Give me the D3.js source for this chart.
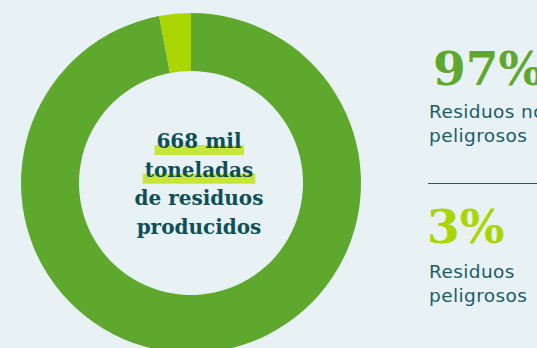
<!DOCTYPE html>
<html><head><meta charset="utf-8">
<script src="https://cdn.jsdelivr.net/npm/d3@7"></script>
<style>html,body{margin:0;padding:0;background:#e8f1f3;overflow:hidden}</style>
</head><body>
<script>
const categories = ["Residuos no peligrosos", "Residuos peligrosos"];
const values = [97, 3];
const pctLabels = ["97%", "3%"];
const labelLines = [["Residuos no", "peligrosos"], ["Residuos", "peligrosos"]];
const centerLines = ["668 mil", "toneladas", "de residuos", "producidos"];
const highlighted = [true, true, false, false];
const colors = ["#5fa82e", "#a9d600"];

const W = 537, H = 348;
const svg = d3.select("body").append("svg").attr("width", W).attr("height", H);
svg.append("rect").attr("width", W).attr("height", H).attr("fill", "#e8f1f3");

const cx = 191, cy = 183, R = 170, r = 112;
const pie = d3.pie().sort(null).value(d => d)(values);
const arc = d3.arc().innerRadius(r).outerRadius(R);
const g = svg.append("g").attr("transform", `translate(${cx},${cy})`);
g.selectAll("path").data(pie).join("path")
  .attr("d", arc).attr("fill", (d, i) => colors[i]);

// center text
const ct = svg.append("g");
const serif = "'DejaVu Serif', serif";
const baseY = 148, lh = 28.7, tx = 199;
centerLines.forEach((t, i) => {
  const y = baseY + i * lh;
  const txt = ct.append("text").attr("x", tx).attr("y", y)
    .attr("text-anchor", "middle").attr("font-family", serif).attr("font-weight", "bold")
    .attr("font-size", 20).attr("fill", "#0d4f57").text(t);
  if (highlighted[i]) {
    const bb = txt.node().getBBox();
    ct.insert("rect", "text").attr("x", bb.x - 2).attr("y", y - 3)
      .attr("width", bb.width + 4).attr("height", 10).attr("fill", "#c6e63a");
  }
});

// right side
const rx = 429;
const pctY = [85, 243];
const pctX = [433, 427];
const labelY = [118, 278];
const pctColors = ["#5fa82e", "#a9d600"];
pctLabels.forEach((p, i) => {
  svg.append("text").attr("x", pctX[i]).attr("y", pctY[i])
    .attr("font-family", serif).attr("font-weight", "bold").attr("font-size", 47)
    .attr("fill", pctColors[i]).text(p);
  labelLines[i].forEach((l, j) => {
    svg.append("text").attr("x", rx).attr("y", labelY[i] + j * 23.5)
      .attr("font-family", "'DejaVu Sans', sans-serif").attr("font-size", 18.5)
      .attr("letter-spacing", 0.4)
      .attr("fill", "#1d5d68").text(l);
  });
});
svg.append("line").attr("x1", 428).attr("x2", W).attr("y1", 183.5).attr("y2", 183.5)
  .attr("stroke", "#1d5d68").attr("stroke-width", 1.2);
</script>
</body></html>
